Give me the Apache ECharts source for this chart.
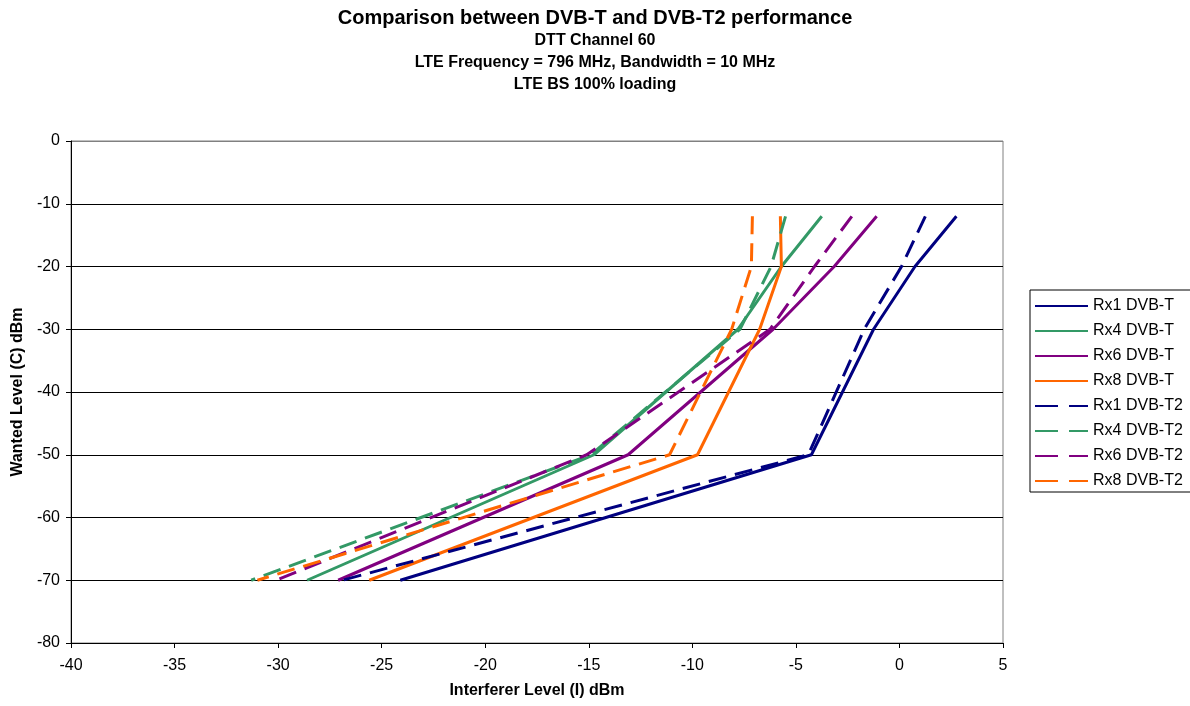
<!DOCTYPE html>
<html>
<head>
<meta charset="utf-8">
<script src="https://cdn.jsdelivr.net/npm/echarts@6/dist/echarts.min.js"></script>
<style>
html,body{margin:0;padding:0;background:#fff;}
#chart{width:1190px;height:706px;}
</style>
</head>
<body>
<div id="chart"></div>
<script>
// Wanted level (C) dBm points for each curve
var wantedLevels = [-12, -20, -30, -50, -70];

// Interferer level (I) dBm at each wanted level
var rx1T  = [2.75, 0.75, -1.25, -4.25, -24.1];
var rx4T  = [-3.75, -5.7, -7.8, -14.75, -28.6];
var rx6T  = [-1.1, -3.15, -6.1, -13.1, -27.1];
var rx8T  = [-5.75, -5.7, -6.75, -9.75, -25.6];
var rx1T2 = [1.25, 0.1, -1.7, -4.4, -26.9];
var rx4T2 = [-5.5, -6.2, -7.7, -14.9, -31.3];
var rx6T2 = [-2.3, -4.1, -6.25, -15.1, -30.1];
var rx8T2 = [-7.1, -7.15, -8.1, -11.1, -31.0];

var seriesNames = ['Rx1 DVB-T','Rx4 DVB-T','Rx6 DVB-T','Rx8 DVB-T','Rx1 DVB-T2','Rx4 DVB-T2','Rx6 DVB-T2','Rx8 DVB-T2'];
var seriesData = [rx1T, rx4T, rx6T, rx8T, rx1T2, rx4T2, rx6T2, rx8T2];
var colors = ['#000080','#339966','#800080','#FF6600','#000080','#339966','#800080','#FF6600'];

var titleText = 'Comparison between DVB-T and DVB-T2 performance';
var subTitles = ['DTT Channel 60', 'LTE Frequency = 796 MHz, Bandwidth = 10 MHz', 'LTE BS 100% loading'];

var FONT = '"Liberation Sans", Arial, sans-serif';

function pairs(xs) {
  return xs.map(function (x, i) { return [x, wantedLevels[i]]; });
}

var series = seriesData.map(function (d, i) {
  return {
    name: seriesNames[i],
    type: 'line',
    data: pairs(d),
    symbol: 'none',
    animation: false,
    lineStyle: {
      color: colors[i],
      width: 3,
      type: i >= 4 ? [18, 9] : 'solid',
      cap: 'butt'
    },
    itemStyle: { color: colors[i] }
  };
});

var legendData = seriesNames.map(function (n, i) {
  return i >= 4 ? { name: n, lineStyle: { type: [23, 11] } } : { name: n };
});

var titles = [{
  text: titleText, left: 595, top: 8, textAlign: 'center', padding: 0,
  textStyle: { fontFamily: FONT, fontSize: 20, fontWeight: 'bold', color: '#000' }
}];
subTitles.forEach(function (t, i) {
  titles.push({
    text: t, left: 595, top: 33 + i * 22, textAlign: 'center', padding: 0,
    textStyle: { fontFamily: FONT, fontSize: 16, fontWeight: 'bold', color: '#000' }
  });
});

var chart = echarts.init(document.getElementById('chart'), null, { renderer: 'canvas' });
chart.setOption({
  backgroundColor: '#fff',
  animation: false,
  color: colors,
  title: titles,
  grid: { left: 71, right: 187, top: 141, bottom: 63, show: true, borderColor: '#808080', borderWidth: 1 },
  legend: {
    orient: 'vertical',
    left: 1030, top: 290,
    padding: [8, 12, 3, 4],
    itemWidth: 53, itemHeight: 14, itemGap: 9,
    borderColor: '#000', borderWidth: 1,
    itemStyle: { opacity: 0 },
    textStyle: { fontFamily: FONT, fontSize: 16, color: '#000' },
    data: legendData
  },
  xAxis: {
    type: 'value', min: -40, max: 5, interval: 5,
    name: 'Interferer Level (I) dBm', nameLocation: 'middle', nameGap: 40,
    nameTextStyle: { fontFamily: FONT, fontSize: 16, fontWeight: 'bold', color: '#000' },
    axisLine: { show: true, onZero: false, lineStyle: { color: '#000', width: 1 } },
    axisTick: { show: true, length: 5, inside: false, lineStyle: { color: '#000' } },
    axisLabel: { fontFamily: FONT, fontSize: 16, color: '#000', margin: 15 },
    splitLine: { show: false }
  },
  yAxis: {
    type: 'value', min: -80, max: 0, interval: 10,
    name: 'Wanted Level (C) dBm', nameLocation: 'middle', nameGap: 43, nameRotate: 90,
    nameTextStyle: { fontFamily: FONT, fontSize: 16, fontWeight: 'bold', color: '#000' },
    axisLine: { show: true, onZero: false, lineStyle: { color: '#000', width: 1 } },
    axisTick: { show: true, length: 5, inside: false, lineStyle: { color: '#000' } },
    axisLabel: { fontFamily: FONT, fontSize: 16, color: '#000', margin: 11 },
    splitLine: { show: true, lineStyle: { color: ['#000','#000','#000','#000','#000','#000','#000','#000','#808080'], width: 1 } }
  },
  series: series
});
</script>
</body>
</html>
